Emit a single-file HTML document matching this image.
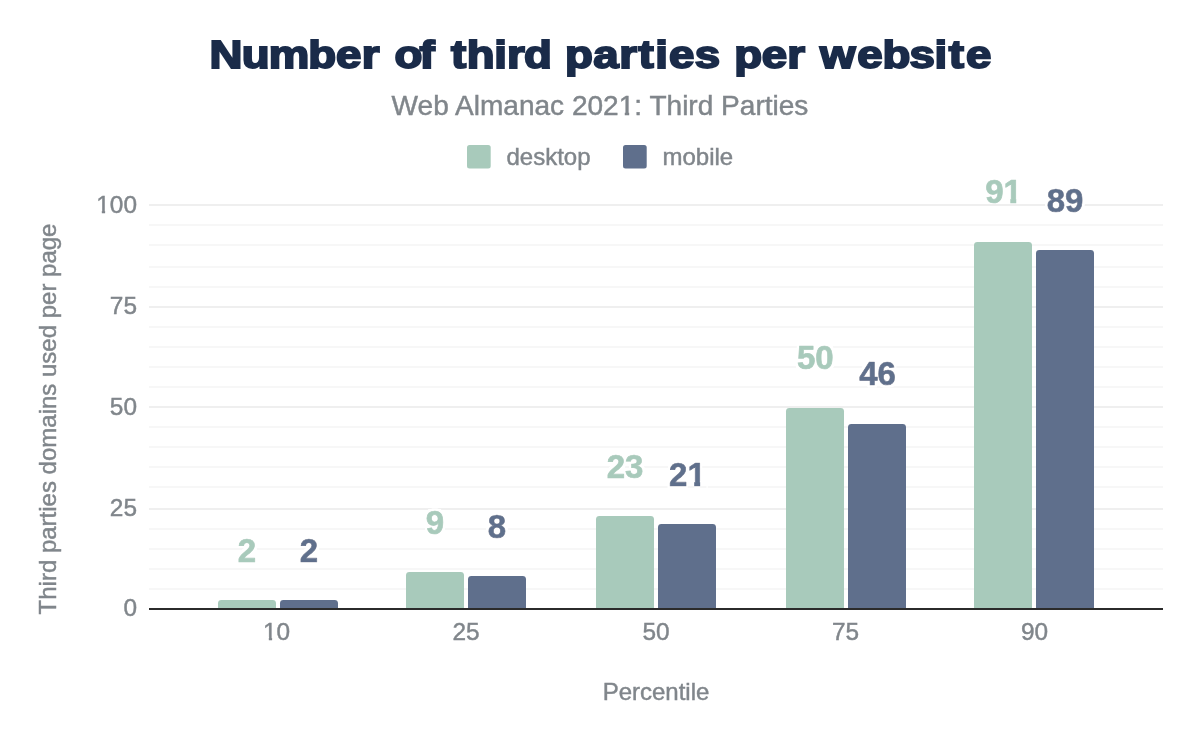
<!DOCTYPE html>
<html lang="en">
<head>
<meta charset="utf-8">
<title>Number of third parties per website</title>
<style>
html,body{margin:0;padding:0;background:#fff;}
body{width:1200px;height:742px;overflow:hidden;}
svg{display:block;}
text{font-family:"Liberation Sans",Arial,Helvetica,sans-serif;}
.t{font-weight:bold;fill:#1a2b49;stroke:#1a2b49;stroke-width:1.9px;stroke-linejoin:miter;}
.g{fill:#80868b;stroke:#80868b;stroke-width:0.45px;}
.v{font-weight:bold;font-size:33px;text-anchor:middle;stroke-width:0.7px;stroke-linejoin:round;filter:url(#halo);}
</style>
</head>
<body>
<svg width="1200" height="742" viewBox="0 0 1200 742">
<defs><filter id="halo" x="-25%" y="-25%" width="150%" height="150%"><feMorphology in="SourceAlpha" operator="dilate" radius="1.5" result="d"/><feGaussianBlur in="d" stdDeviation="0.7" result="b"/><feComponentTransfer in="b" result="a"><feFuncA type="linear" slope="2.5" intercept="0"/></feComponentTransfer><feFlood flood-color="#ffffff"/><feComposite in2="a" operator="in" result="h"/><feMerge><feMergeNode in="h"/><feMergeNode in="SourceGraphic"/></feMerge></filter></defs>
<rect width="1200" height="742" fill="#ffffff"/>
<text class="t" transform="scale(1.200,1)" y="68.3" font-size="38" x="174.59 201.56 223.90 256.81 279.97 301.55 317.60 328.68 349.61 363.90 375.81 388.91 411.79 422.54 436.71 460.17 470.92 494.30 516.08 532.01 546.06 557.52 578.92 599.03 611.87 634.76 656.13 669.40 683.28 714.33 735.50 757.83 778.84 790.73 805.00">Number of third parties per website</text>
<defs><clipPath id="cs"><path clip-rule="evenodd" d="M380 85h440v40h-440zM618.5 112.1h6.3v4h-6.3zM629.15 112.1h5v4h-5z"/></clipPath><clipPath id="cy"><path clip-rule="evenodd" d="M80 185h70v40h-70zM96.5 210.1h5.35v4h-5.35zM105.1 210.1h4.9v4h-4.9z"/></clipPath><clipPath id="cx"><path clip-rule="evenodd" d="M250 612h60v40h-60zM262.5 637.1h6.35v4h-6.35zM272.1 637.1h4.9v4h-4.9z"/></clipPath></defs>
<text class="g" clip-path="url(#cs)" x="600" y="114.5" text-anchor="middle" font-size="28.05">Web Almanac 2021: Third Parties</text>
<rect x="467" y="145" width="23.7" height="23.4" rx="2.5" fill="#a8cabb"/>
<text class="g" x="506.5" y="164.5" font-size="24">desktop</text>
<rect x="623" y="145" width="23.7" height="23.4" rx="2.5" fill="#5f6f8c"/>
<text class="g" x="662.5" y="164.5" font-size="24">mobile</text>
<rect x="149" y="204" width="1014" height="2" fill="#efefef"/>
<rect x="149" y="224" width="1014" height="2" fill="#f7f7f7"/>
<rect x="149" y="244" width="1014" height="2" fill="#f7f7f7"/>
<rect x="149" y="266" width="1014" height="2" fill="#f7f7f7"/>
<rect x="149" y="286" width="1014" height="2" fill="#f7f7f7"/>
<rect x="149" y="306" width="1014" height="2" fill="#efefef"/>
<rect x="149" y="326" width="1014" height="2" fill="#f7f7f7"/>
<rect x="149" y="346" width="1014" height="2" fill="#f7f7f7"/>
<rect x="149" y="366" width="1014" height="2" fill="#f7f7f7"/>
<rect x="149" y="386" width="1014" height="2" fill="#f7f7f7"/>
<rect x="149" y="406" width="1014" height="2" fill="#efefef"/>
<rect x="149" y="426" width="1014" height="2" fill="#f7f7f7"/>
<rect x="149" y="446" width="1014" height="2" fill="#f7f7f7"/>
<rect x="149" y="466" width="1014" height="2" fill="#f7f7f7"/>
<rect x="149" y="486" width="1014" height="2" fill="#f7f7f7"/>
<rect x="149" y="508" width="1014" height="2" fill="#efefef"/>
<rect x="149" y="528" width="1014" height="2" fill="#f7f7f7"/>
<rect x="149" y="548" width="1014" height="2" fill="#f7f7f7"/>
<rect x="149" y="568" width="1014" height="2" fill="#f7f7f7"/>
<rect x="149" y="588" width="1014" height="2" fill="#f7f7f7"/>
<text class="g" clip-path="url(#cy)" x="137" y="213.00" text-anchor="end" font-size="24.4">100</text>
<text class="g" x="137" y="313.85" text-anchor="end" font-size="24.4">75</text>
<text class="g" x="137" y="414.70" text-anchor="end" font-size="24.4">50</text>
<text class="g" x="137" y="515.55" text-anchor="end" font-size="24.4">25</text>
<text class="g" x="137" y="616.40" text-anchor="end" font-size="24.4">0</text>
<path d="M218.00 608.00V603.40Q218.00 600.00 221.40 600.00H272.60Q276.00 600.00 276.00 603.40V608.00Z" fill="#a8cabb"/>
<path d="M280.00 608.00V603.40Q280.00 600.00 283.40 600.00H334.60Q338.00 600.00 338.00 603.40V608.00Z" fill="#5f6f8c"/>
<path d="M406.00 608.00V575.40Q406.00 572.00 409.40 572.00H460.60Q464.00 572.00 464.00 575.40V608.00Z" fill="#a8cabb"/>
<path d="M468.00 608.00V579.40Q468.00 576.00 471.40 576.00H522.60Q526.00 576.00 526.00 579.40V608.00Z" fill="#5f6f8c"/>
<path d="M596.00 608.00V519.40Q596.00 516.00 599.40 516.00H650.60Q654.00 516.00 654.00 519.40V608.00Z" fill="#a8cabb"/>
<path d="M658.00 608.00V527.40Q658.00 524.00 661.40 524.00H712.60Q716.00 524.00 716.00 527.40V608.00Z" fill="#5f6f8c"/>
<path d="M786.00 608.00V411.40Q786.00 408.00 789.40 408.00H840.60Q844.00 408.00 844.00 411.40V608.00Z" fill="#a8cabb"/>
<path d="M848.00 608.00V427.40Q848.00 424.00 851.40 424.00H902.60Q906.00 424.00 906.00 427.40V608.00Z" fill="#5f6f8c"/>
<path d="M974.00 608.00V245.40Q974.00 242.00 977.40 242.00H1028.60Q1032.00 242.00 1032.00 245.40V608.00Z" fill="#a8cabb"/>
<path d="M1036.00 608.00V253.40Q1036.00 250.00 1039.40 250.00H1090.60Q1094.00 250.00 1094.00 253.40V608.00Z" fill="#5f6f8c"/>
<rect x="149" y="608" width="1014" height="2" fill="#2b2b2b"/>
<text class="v" x="247.0" y="561.70" fill="#a8cabb" stroke="#a8cabb">2</text>
<text class="v" x="309.0" y="561.70" fill="#5f6f8c" stroke="#5f6f8c">2</text>
<text class="v" x="435.0" y="533.70" fill="#a8cabb" stroke="#a8cabb">9</text>
<text class="v" x="497.0" y="537.70" fill="#5f6f8c" stroke="#5f6f8c">8</text>
<text class="v" x="625.0" y="477.70" fill="#a8cabb" stroke="#a8cabb">23</text>
<clipPath id="c21"><path clip-rule="evenodd" d="M642.4 440.7h90v60h-90zM687.80 481.20h6.4v8h-6.4zM700.15 481.20h6.4v8h-6.4z"/></clipPath><text class="v" clip-path="url(#c21)" x="687.4" y="485.70" fill="#5f6f8c" stroke="#5f6f8c">21</text>
<text class="v" x="815.3" y="369.00" fill="#a8cabb" stroke="#a8cabb">50</text>
<text class="v" x="877.6" y="385.00" fill="#5f6f8c" stroke="#5f6f8c">46</text>
<clipPath id="c91"><path clip-rule="evenodd" d="M958.5 158.2h90v60h-90zM1003.90 198.70h6.4v8h-6.4zM1016.25 198.70h6.4v8h-6.4z"/></clipPath><text class="v" clip-path="url(#c91)" x="1003.5" y="203.20" fill="#a8cabb" stroke="#a8cabb">91</text>
<text class="v" x="1065.0" y="212.00" fill="#5f6f8c" stroke="#5f6f8c">89</text>
<rect x="976" y="204" width="52" height="2" fill="#efefef"/>
<text class="g" clip-path="url(#cx)" x="276.6" y="640.1" text-anchor="middle" font-size="24.4">10</text>
<text class="g" x="466.0" y="640.1" text-anchor="middle" font-size="24.4">25</text>
<text class="g" x="656.0" y="640.1" text-anchor="middle" font-size="24.4">50</text>
<text class="g" x="845.5" y="640.1" text-anchor="middle" font-size="24.4">75</text>
<text class="g" x="1034.5" y="640.1" text-anchor="middle" font-size="24.4">90</text>
<text class="g" x="656" y="699.5" text-anchor="middle" font-size="24">Percentile</text>
<text class="g" transform="translate(56.3,419) rotate(-90)" text-anchor="middle" font-size="24">Third parties domains used per page</text>
</svg>
</body>
</html>
